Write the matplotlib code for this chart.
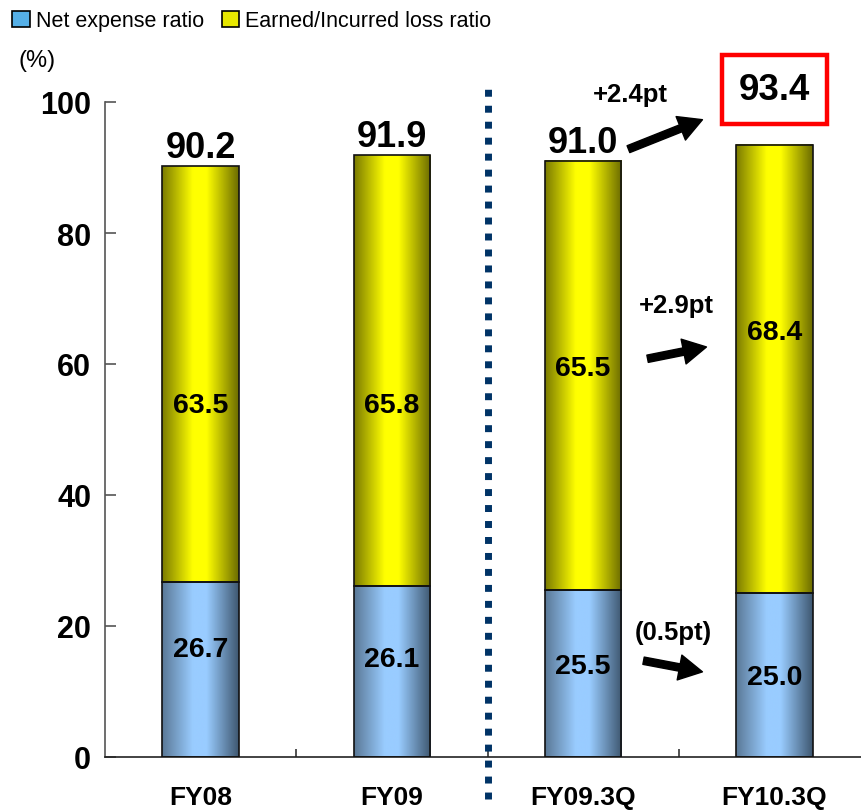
import numpy as np
import matplotlib
matplotlib.use("Agg")
import matplotlib.pyplot as plt
from matplotlib.colors import LinearSegmentedColormap
from matplotlib.patches import Patch

categories = ["FY08", "FY09", "FY09.3Q", "FY10.3Q"]
net_expense = [26.7, 26.1, 25.5, 25.0]
loss_ratio = [63.5, 65.8, 65.5, 68.4]
totals = [90.2, 91.9, 91.0, 93.4]
changes = ["+2.4pt", "+2.9pt", "(0.5pt)"]

# label placement (layout)
exp_label_y = [16.5, 15.0, 13.9, 12.2]
loss_label_y = [53.7, 53.7, 59.4, 64.9]

plt.rcParams['font.family'] = ['Liberation Sans', 'DejaVu Sans']

fig = plt.figure(figsize=(8.61, 8.12), dpi=100)
ax = fig.add_axes([105/861, 54/812, 765/861, 655/812])
x = np.arange(len(categories))
w = 0.40

blue_cmap = LinearSegmentedColormap.from_list(
    "b", [(0, "#5A7896"), (0.4, "#99CCFF"), (0.58, "#99CCFF"), (1, "#3E5770")])
yel_cmap = LinearSegmentedColormap.from_list(
    "y", [(0, "#7A7A00"), (0.4, "#FFFF00"), (0.58, "#FFFF00"), (1, "#6B6B00")])
grad = np.linspace(0, 1, 256).reshape(1, -1)

b1 = ax.bar(x, net_expense, w, facecolor="none", edgecolor="#111111", lw=1.2, zorder=3)
b2 = ax.bar(x, loss_ratio, w, bottom=net_expense, facecolor="none", edgecolor="#111111", lw=1.2, zorder=3)
for rect in b1:
    ax.imshow(grad, cmap=blue_cmap, aspect="auto", zorder=2,
              extent=(rect.get_x(), rect.get_x()+rect.get_width(), rect.get_y(), rect.get_y()+rect.get_height()))
for rect in b2:
    ax.imshow(grad, cmap=yel_cmap, aspect="auto", zorder=2,
              extent=(rect.get_x(), rect.get_x()+rect.get_width(), rect.get_y(), rect.get_y()+rect.get_height()))

ax.set_xlim(-0.5, 3.5)
ax.set_ylim(0, 100)

for i in range(len(categories)):
    ax.text(x[i], exp_label_y[i], f"{net_expense[i]:.1f}", ha="center", va="center",
            fontsize=20.5, fontweight="bold", zorder=5)
    ax.text(x[i], loss_label_y[i], f"{loss_ratio[i]:.1f}", ha="center", va="center",
            fontsize=20.5, fontweight="bold", zorder=5)

for i in range(3):
    tot = net_expense[i] + loss_ratio[i]
    ax.annotate(f"{totals[i]:.1f}", (x[i], tot), xytext=(0, 1), textcoords="offset points",
                ha="center", va="bottom", fontsize=26, fontweight="bold", zorder=5)
ax.text(x[3], 101.9, f"{totals[3]:.1f}", ha="center", va="center", fontsize=26.5,
        fontweight="bold", zorder=5, clip_on=False,
        bbox=dict(boxstyle="square,pad=0.45", fc="white", ec="#FF0000", lw=3.2))

# change annotations
arrow_kw = dict(arrowstyle="simple,head_length=1.2,head_width=1.3,tail_width=0.38",
                color="black", shrinkA=0, shrinkB=0, mutation_scale=14)
ax.annotate("", xy=(2.624, 97.3), xytext=(2.237, 92.8), arrowprops=arrow_kw, annotation_clip=False)
ax.annotate("", xy=(2.645, 62.6), xytext=(2.337, 60.8), arrowprops=arrow_kw)
ax.annotate("", xy=(2.624, 13.0), xytext=(2.316, 14.7), arrowprops=arrow_kw)
ax.text(2.248, 101.2, changes[0], ha="center", va="center", fontsize=18.5, fontweight="bold", clip_on=False)
ax.text(2.488, 69.0, changes[1], ha="center", va="center", fontsize=18.5, fontweight="bold")
ax.text(2.473, 19.1, changes[2], ha="center", va="center", fontsize=18.5, fontweight="bold")

# dotted separator
ax.plot([1.5, 1.5], [-6.4, 102], ls=(0, (1, 1.3)), lw=5, color="#003366",
        clip_on=False, zorder=4, solid_capstyle="butt", dash_capstyle="butt")

# axes styling
for s in ["top", "right"]:
    ax.spines[s].set_visible(False)
ax.spines["left"].set_color("#555555")
ax.spines["left"].set_linewidth(1.2)
ax.spines["bottom"].set_color("#222222")
ax.spines["bottom"].set_linewidth(1.2)
ax.set_yticks([0, 20, 40, 60, 80, 100])
ax.tick_params(axis="y", direction="in", length=8, width=1.2, color="#555555",
               labelsize=22, pad=10)
for lab in ax.get_yticklabels():
    lab.set_fontweight("bold")
ax.set_xticks(x)
ax.set_xticklabels(categories, fontsize=19, fontweight="bold")
ax.tick_params(axis="x", length=0, pad=20)
ax.set_xticks([0.5, 1.5, 2.5], minor=True)
ax.tick_params(axis="x", which="minor", direction="in", length=6, width=1.2, color="#333333")

fig.text(37/861, 1 - 61/812, "(%)", ha="center", va="center", fontsize=17)

handles = [Patch(facecolor="#55B0E8", edgecolor="black", lw=1.2),
           Patch(facecolor="#E8E800", edgecolor="black", lw=1.2)]
fig.legend(handles, ["Net expense ratio", "Earned/Incurred loss ratio"], loc="upper left",
           bbox_to_anchor=(0.007, 0.994), ncol=2, frameon=False, fontsize=15.5,
           handlelength=0.8, handleheight=0.8, handletextpad=0.3, columnspacing=0.8,
           borderaxespad=0.0, borderpad=0.3)

fig.savefig("out.png", dpi=100)
